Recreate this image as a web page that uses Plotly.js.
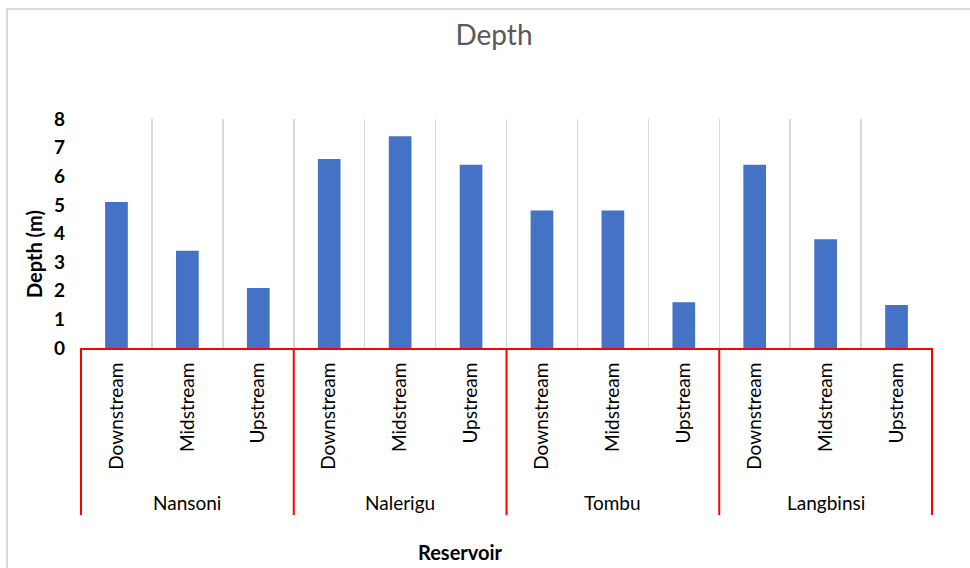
<!DOCTYPE html>
<html>
<head>
<meta charset="utf-8">
<script src="https://cdn.plot.ly/plotly-3.0.1.min.js"></script>
<style>
  html, body { margin: 0; padding: 0; background: #ffffff; }
  #wrap { position: relative; width: 970px; height: 568px; overflow: hidden; }
  #chart { position: absolute; left: 0; top: 0; width: 970px; height: 568px; }
  #frame { position: absolute; left: 6px; top: 8px; width: 1000px; height: 600px;
           border: 2px solid #d9d9d9; box-sizing: border-box; pointer-events: none; }
</style>
</head>
<body>
<div id="wrap"><div id="chart"></div><div id="frame"></div></div>
<script>
// Water depth (m) at three sampling positions in each reservoir
const reservoirs = ['Nansoni', 'Nalerigu', 'Tombu', 'Langbinsi'];
const positions = ['Downstream', 'Midstream', 'Upstream'];
const nansoni = [5.1, 3.4, 2.1];
const nalerigu = [6.6, 7.4, 6.4];
const tombu = [4.8, 4.8, 1.6];
const langbinsi = [6.4, 3.8, 1.5];
const yTicks = [0, 1, 2, 3, 4, 5, 6, 7, 8];

const depthByReservoir = [nansoni, nalerigu, tombu, langbinsi];

// Flatten into one slot per (reservoir, position)
const xIdx = [], yVal = [], tickText = [];
depthByReservoir.forEach((vals, g) => {
  vals.forEach((v, i) => {
    xIdx.push(g * positions.length + i);
    yVal.push(v);
    tickText.push(positions[i]);
  });
});
const nSlots = xIdx.length;
const boundaries = [];
for (let i = 0; i <= nSlots; i++) boundaries.push(i - 0.5);

const FONT = 'Lato, "Open Sans", sans-serif';
const TXT = '#000000';

// Plot-area geometry in pixels (used to place the category band below the axis)
const W = 970, H = 568, ML = 81, MR = 38, MT = 119, MB = 220;
const plotH = H - MT - MB, plotW = W - ML - MR;
const pyBelow = px => -(px - (H - MB)) / plotH;   // page y -> paper y

const shapes = [];
const annotations = [];
for (let g = 0; g <= reservoirs.length; g++) {
  const fx = (g * positions.length) / nSlots;
  shapes.push({
    type: 'line', xref: 'x domain', yref: 'paper',
    x0: fx, x1: fx, y0: 0, y1: pyBelow(515),
    line: { color: '#FF0000', width: 2 }, layer: 'above'
  });
}
reservoirs.forEach((name, g) => {
  annotations.push({
    text: name, xref: 'x', yref: 'paper',
    x: g * positions.length + (positions.length - 1) / 2, y: pyBelow(502),
    xanchor: 'center', yanchor: 'middle', showarrow: false,
    font: { family: FONT, size: 19, color: TXT }
  });
});
annotations.push({
  text: '<b>Reservoir</b>', xref: 'paper', yref: 'paper',
  x: (460 - ML) / plotW, y: pyBelow(552),
  xanchor: 'center', yanchor: 'middle', showarrow: false,
  font: { family: FONT, size: 20, color: TXT }
});
annotations.push({
  text: '<b>Depth (m)</b>', xref: 'paper', yref: 'paper',
  x: (34 - ML) / plotW, y: (H - MB - 254) / plotH, textangle: -90,
  xanchor: 'center', yanchor: 'middle', showarrow: false,
  font: { family: FONT, size: 20, color: TXT }
});

const trace = {
  type: 'bar',
  x: xIdx,
  y: yVal,
  width: 0.32,
  marker: { color: '#4472C4' },
  hoverinfo: 'skip'
};

const layout = {
  width: W, height: H,
  margin: { l: ML, r: MR, t: MT, b: MB, pad: 0 },
  paper_bgcolor: 'rgba(0,0,0,0)',
  plot_bgcolor: '#ffffff',
  showlegend: false,
  title: {
    text: 'Depth', xref: 'container', yref: 'container',
    x: 494 / W, y: 1 - 35 / H, xanchor: 'center', yanchor: 'middle',
    font: { family: FONT, size: 28, color: '#595959' }
  },
  xaxis: {
    type: 'linear',
    range: [-0.5, nSlots - 0.5],
    tickmode: 'array', tickvals: xIdx, ticktext: tickText,
    tickangle: -90, ticks: '', ticklabelstandoff: 5,
    tickfont: { family: FONT, size: 19, color: TXT },
    showgrid: false, zeroline: false,
    showline: true, linecolor: '#FF0000', linewidth: 2,
    minor: { tickmode: 'array', tickvals: boundaries, showgrid: true,
             gridcolor: '#d9d9d9', gridwidth: 1.5, ticks: '' },
    fixedrange: true
  },
  yaxis: {
    range: [0, 8],
    tickmode: 'array', tickvals: yTicks,
    ticktext: yTicks.map(v => '<b>' + v + '</b>'),
    ticks: '', ticklabelstandoff: 15,
    tickfont: { family: FONT, size: 19, color: TXT },
    showgrid: false, zeroline: false, showline: false,
    fixedrange: true
  },
  shapes: shapes,
  annotations: annotations
};

Plotly.newPlot('chart', [trace], layout, { displayModeBar: false, staticPlot: true });
</script>
</body>
</html>
